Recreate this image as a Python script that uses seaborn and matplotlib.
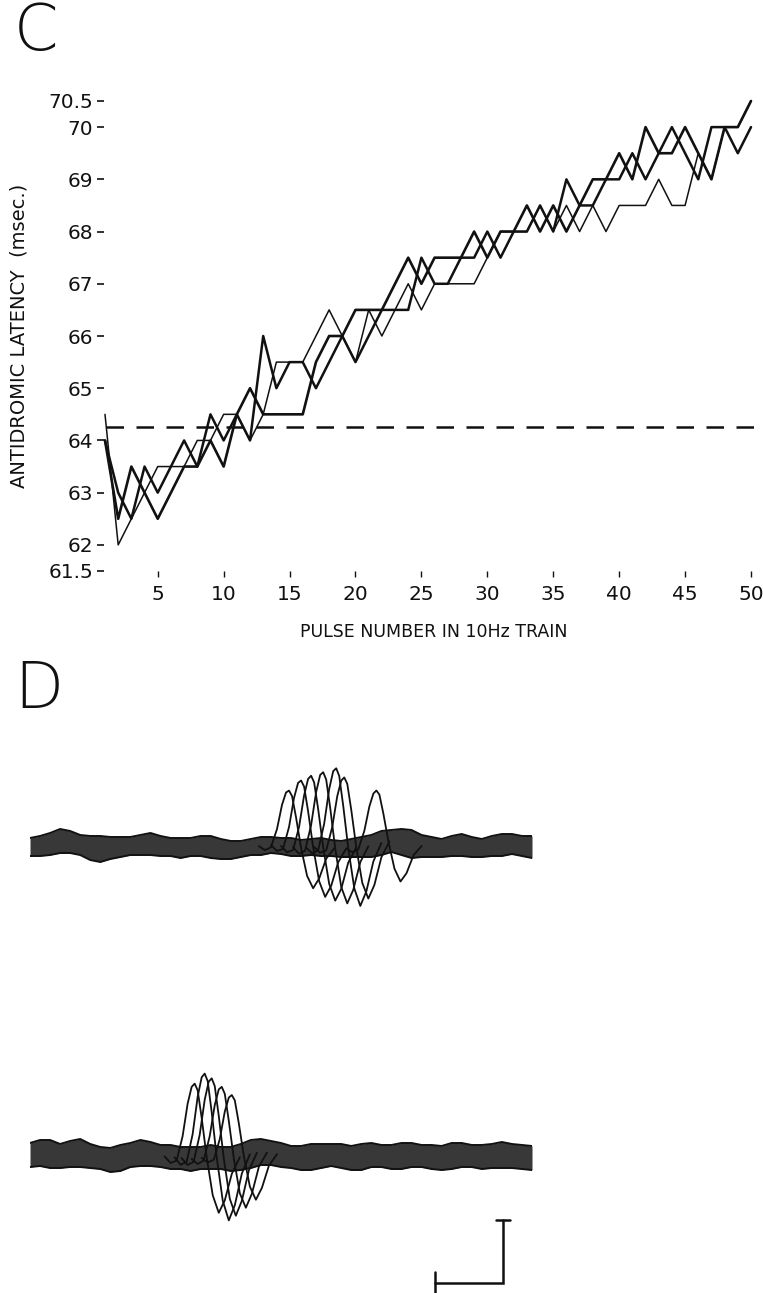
import matplotlib
matplotlib.use("Agg")
import matplotlib.pyplot as plt
import numpy as np
import pandas as pd
import seaborn as sns

# ---------------- Panel C: antidromic latency over a 10 Hz train ----------------
pulse = list(range(1, 51))
latency_a = [64.5, 62.0, 62.5, 63.0, 63.5, 63.5, 63.5, 64.0, 64.0, 64.5,
             64.5, 64.0, 64.5, 65.5, 65.5, 65.5, 66.0, 66.5, 66.0, 65.5,
             66.5, 66.0, 66.5, 67.0, 66.5, 67.0, 67.0, 67.0, 67.0, 67.5,
             68.0, 68.0, 68.0, 68.5, 68.0, 68.5, 68.0, 68.5, 68.0, 68.5,
             68.5, 68.5, 69.0, 68.5, 68.5, 69.5, 69.0, 70.0, 70.0, 70.5]
latency_b = [64.0, 62.5, 63.5, 63.0, 62.5, 63.0, 63.5, 63.5, 64.0, 63.5,
             64.5, 65.0, 64.5, 64.5, 64.5, 64.5, 65.5, 66.0, 66.0, 66.5,
             66.5, 66.5, 67.0, 67.5, 67.0, 67.5, 67.5, 67.5, 68.0, 67.5,
             68.0, 68.0, 68.5, 68.0, 68.5, 68.0, 68.5, 69.0, 69.0, 69.5,
             69.0, 70.0, 69.5, 69.5, 70.0, 69.5, 69.0, 70.0, 70.0, 70.5]
latency_c = [64.0, 63.0, 62.5, 63.5, 63.0, 63.5, 64.0, 63.5, 64.5, 64.0,
             64.5, 64.0, 66.0, 65.0, 65.5, 65.5, 65.0, 65.5, 66.0, 65.5,
             66.0, 66.5, 66.5, 66.5, 67.5, 67.0, 67.0, 67.5, 67.5, 68.0,
             67.5, 68.0, 68.0, 68.5, 68.0, 69.0, 68.5, 68.5, 69.0, 69.0,
             69.5, 69.0, 69.5, 70.0, 69.5, 69.0, 70.0, 70.0, 69.5, 70.0]
control_latency = 64.25
y_ticks = [61.5, 62, 63, 64, 65, 66, 67, 68, 69, 70, 70.5]
y_tick_labels = ["61.5", "62", "63", "64", "65", "66", "67", "68", "69", "70", "70.5"]
x_ticks = [5, 10, 15, 20, 25, 30, 35, 40, 45, 50]
x_tick_labels = ["5", "10", "15", "20", "25", "30", "35", "40", "45", "50"]

# ---------------- Panel D: superimposed sweeps (time in ms) ----------------
sweep_time = list(range(0, 51))
# centre line and half-thickness of the noisy baseline band, upper sweep set
top_mid = [0, 1, 3, 6, 5, 2, -1, -2, -1, 0, 1, 2, 3, 1, 0, -1, 0, 1, 0, -2,
           -3, -2, 0, 1, 2, 1, 0, -1, 0, 0, -1, -2, -1, 0, 1, 4, 6, 5, 3, 1,
           0, -1, 1, 2, 0, -1, 1, 2, 3, 1, 0]
top_half = [9, 10, 11, 12, 11, 10, 12, 13, 11, 10, 9, 10, 11, 10, 9, 10, 9, 10, 11, 10,
            9, 8, 8, 9, 8, 8, 9, 8, 8, 9, 8, 8, 9, 10, 11, 12, 11, 13, 14, 11,
            10, 9, 10, 11, 10, 9, 10, 11, 10, 10, 11]
# lower sweep set
bot_mid = [3, 5, 4, 2, 4, 5, 2, 0, -2, 0, 3, 5, 4, 2, 1, 0, -1, 0, 1, 0,
           -1, 1, 4, 6, 5, 3, 1, 0, 1, 2, 3, 2, 0, 1, 3, 2, 1, 2, 3, 2,
           1, 0, 2, 3, 2, 1, 2, 3, 2, 1, 0]
bot_half = [12, 13, 14, 12, 13, 14, 12, 11, 12, 13, 12, 13, 12, 11, 12, 11, 12, 11, 12, 11,
            12, 13, 14, 13, 12, 12, 11, 12, 13, 12, 11, 12, 12, 13, 12, 11, 12, 13, 12, 11,
            12, 12, 13, 12, 11, 12, 12, 13, 12, 12, 12]
# action potential shape (ms after onset, amplitude)
spike_t = [0, 0.6, 1.2, 1.8, 2.3, 2.7, 3.0, 3.3, 3.7, 4.2, 4.8, 5.4, 6.0, 6.7, 7.5]
spike_v = [0, -6, -3, 22, 55, 72, 75, 68, 40, 0, -38, -55, -42, -15, 0]
top_onsets = [22.8, 24.0, 25.0, 26.2, 27.5, 28.3, 31.5]
top_scales = [0.75, 0.9, 0.95, 1.0, 1.07, 0.95, 0.72]
bot_onsets = [13.4, 14.4, 15.1, 16.1, 17.1]
bot_scales = [1.0, 1.12, 1.05, 0.95, 0.85]
scale_bar_ms = 6.8
scale_bar_amp = 63

sns.set_theme(style="white")
plt.rcParams["font.family"] = ["DejaVu Sans"]

W, H = 763, 1293
fig = plt.figure(figsize=(W / 100, H / 100), dpi=100)
fig.patch.set_facecolor("white")

ink = "#111111"

# ---- panel C axes
ax = fig.add_axes([104 / W, 1 - 571 / H, (W - 104) / W, 470 / H])
ax.set_facecolor("white")
df = pd.DataFrame({
    "pulse": pulse * 3,
    "latency": latency_a + latency_b + latency_c,
    "run": ["a"] * 50 + ["b"] * 50 + ["c"] * 50,
})
widths = {"a": 1.1, "b": 1.9, "c": 1.8}
for run, grp in df.groupby("run"):
    sns.lineplot(data=grp, x="pulse", y="latency", ax=ax, color=ink,
                 lw=widths[run], clip_on=False, estimator=None, legend=False)
ax.axhline(control_latency, color=ink, lw=1.8, linestyle=(0, (7, 5)),
           xmin=0.003, xmax=1.0)

ax.set_xlim(1 - 1 / 13.18, 50 + 12 / 13.18)
ax.set_ylim(61.5, 70.5)
ax.set_yticks(y_ticks)
ax.set_yticklabels(y_tick_labels)
ax.set_xticks(x_ticks)
ax.set_xticklabels(x_tick_labels)
for s in ax.spines.values():
    s.set_visible(False)
ax.tick_params(axis="y", which="both", left=True, direction="out", length=5,
               width=1.2, pad=3, labelsize=14.5, colors=ink)
ax.tick_params(axis="x", which="both", bottom=True, direction="out", length=4,
               width=1.0, pad=6, labelsize=14.5, colors=ink)
ax.set_xlabel("PULSE NUMBER IN 10Hz TRAIN", fontsize=12.5, color=ink, labelpad=14)
ax.set_ylabel("ANTIDROMIC LATENCY  (msec.)", fontsize=14, color=ink, labelpad=14)
ax.grid(False)

fig.text(14 / W, 1 - 32 / H, "C", fontsize=46, color=ink, va="center", ha="left",
         fontweight="light")
fig.text(14 / W, 1 - 690 / H, "D", fontsize=46, color=ink, va="center", ha="left",
         fontweight="light")


def draw_sweeps(axd, mid, half, onsets, scales):
    t = np.array(sweep_time, dtype=float)
    m = np.array(mid, dtype=float)
    h = np.array(half, dtype=float)
    axd.fill_between(t, m - h, m + h, color="#383838", lw=0)
    axd.plot(t, m + h, color=ink, lw=1.4)
    axd.plot(t, m - h, color=ink, lw=1.4)
    st = np.array(spike_t)
    sv = np.array(spike_v)
    for on, sc in zip(onsets, scales):
        base = np.interp(on + st, t, m)
        axd.plot(on + st, base + sv * sc, color=ink, lw=1.3, solid_joinstyle="round")
    axd.set_xlim(0, 50)
    axd.set_ylim(-100, 100)
    axd.axis("off")


ax_top = fig.add_axes([30 / W, 1 - 947 / H, 502 / W, 200 / H])
draw_sweeps(ax_top, top_mid, top_half, top_onsets, top_scales)

ax_bot = fig.add_axes([30 / W, 1 - 1258 / H, 502 / W, 200 / H])
draw_sweeps(ax_bot, bot_mid, bot_half, bot_onsets, bot_scales)

# calibration bar
bx = 47.1
by = -125
ax_bot.plot([bx - scale_bar_ms, bx, bx], [by, by, by + scale_bar_amp],
            color=ink, lw=1.8, clip_on=False, solid_joinstyle="miter")
ax_bot.plot([bx - 0.7, bx + 0.7], [by + scale_bar_amp] * 2, color=ink, lw=1.8, clip_on=False)
ax_bot.plot([bx - scale_bar_ms] * 2, [by + 11, by - 11], color=ink, lw=1.8, clip_on=False)

fig.savefig("out.png", dpi=100, facecolor="white")
